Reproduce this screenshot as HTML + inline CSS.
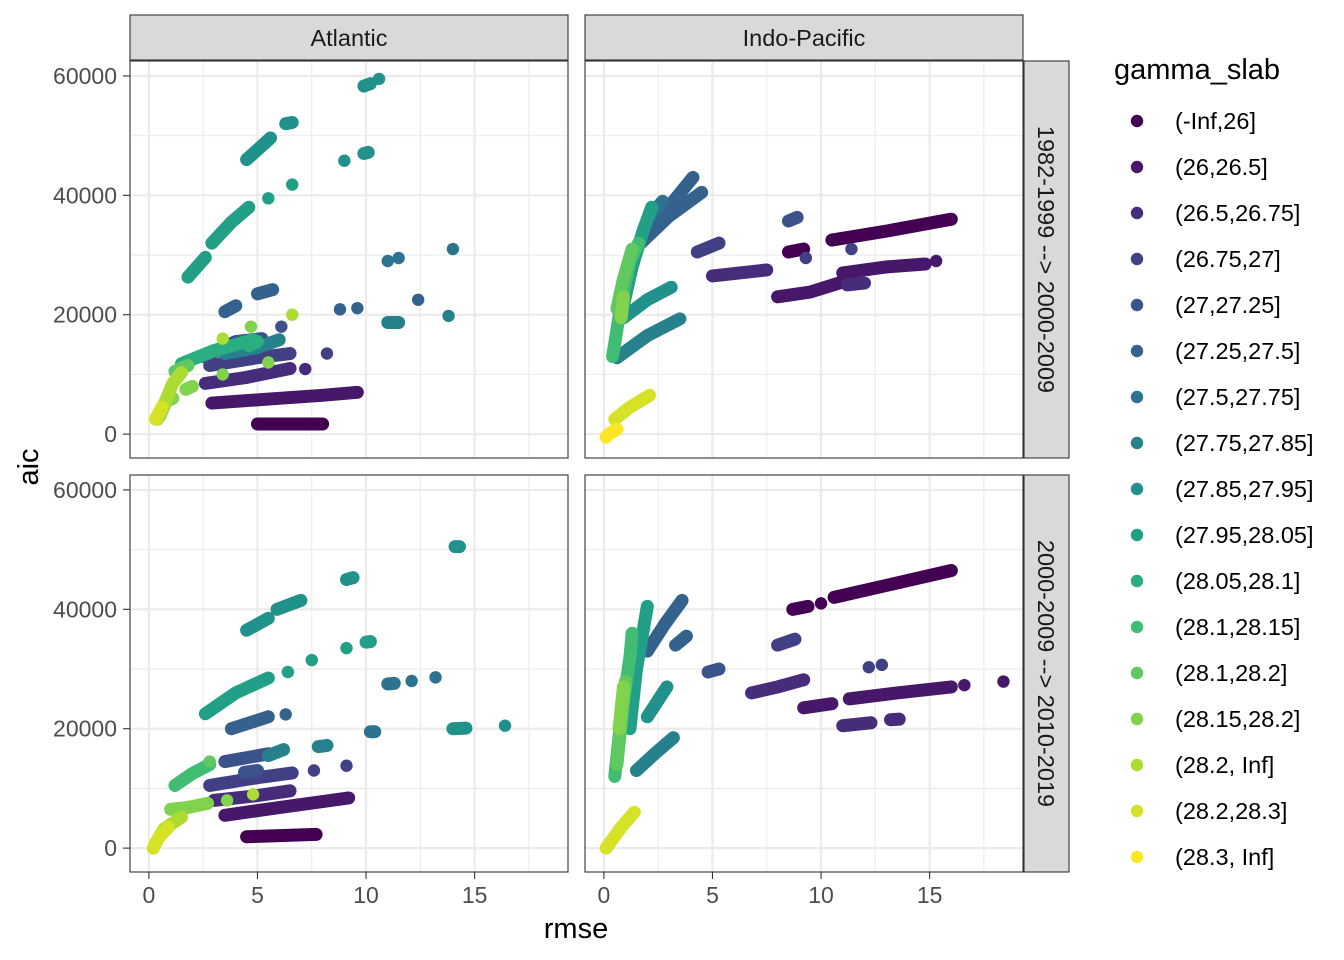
<!DOCTYPE html>
<html><head><meta charset="utf-8"><style>
body{margin:0;background:#fff;}
svg{display:block;font-family:"Liberation Sans",sans-serif;}
</style></head><body>
<svg id="chart" width="1344" height="960" viewBox="0 0 1344 960"></svg>
<script>
const groupLabels = ["(-Inf,26]","(26,26.5]","(26.5,26.75]","(26.75,27]","(27,27.25]","(27.25,27.5]","(27.5,27.75]","(27.75,27.85]","(27.85,27.95]","(27.95,28.05]","(28.05,28.1]","(28.1,28.15]","(28.1,28.2]","(28.15,28.2]","(28.2, Inf]","(28.2,28.3]","(28.3, Inf]"];
const colLabels = ["Atlantic","Indo-Pacific"];
const rowLabels = ["1982-1999 --> 2000-2009","2000-2009 --> 2010-2019"];
const xTicks = [0,5,10,15];
const yTicks = [0,20000,40000,60000];
// streaks: [group, [[rmse, aic], ...]]
const dataTL = [
 [0,[[5,1700],[8,1700]]],
 [1,[[2.9,5200],[6,6000],[8,6500],[9.6,7000]]],
 [2,[[2.6,8500],[4.5,9500],[6.5,11000]]],[2,[[7.2,10900]]],
 [3,[[2.8,11500],[5,12800],[6.5,13500]]],[3,[[8.2,13500]]],
 [4,[[2.5,13000],[4,15500],[5.2,16000]]],[4,[[6.1,18000]]],
 [5,[[3.5,20500],[4,21500]]],[5,[[5,23500],[5.7,24200]]],
 [6,[[11,29000]]],[6,[[11.5,29500]]],[6,[[14,31000]]],[5,[[8.8,20900]]],[5,[[9.6,21100]]],[5,[[12.4,22500]]],
 [7,[[11,18700],[11.5,18700]]],[7,[[13.8,19800]]],[7,[[3.5,13500],[5,14500],[6,15800]]],
 [8,[[4.5,46000],[5.6,49600]]],[8,[[6.3,52000],[6.6,52200]]],[8,[[9,45800]]],[8,[[9.9,47000],[10.1,47200]]],[8,[[9.9,58300],[10.2,58700]]],[8,[[10.6,59500]]],
 [9,[[1.8,26300],[2.6,29600]]],[9,[[2.9,32000],[3.8,35500],[4.6,38000]]],[9,[[5.5,39500]]],[9,[[6.6,41800]]],
 [10,[[1.5,11800],[3,14000],[4.8,15800]]],[10,[[4.6,14800],[5,15500]]],
 [12,[[1.2,10500],[1.8,11500]]],[13,[[0.5,3000],[0.8,5500],[1.1,6000]]],
 [13,[[1.7,7500],[2,8000]]],[13,[[3.4,10000]]],[13,[[5.5,12000]]],[13,[[4.7,18000]]],
 [14,[[0.4,2500],[0.7,5000],[1.1,8500],[1.5,10300]]],[14,[[3.4,16000]]],[14,[[6.6,20000]]],
 [15,[[0.3,2500],[0.6,4500]]]
];
const dataTR = [
 [0,[[10.5,32500],[13,34000],[16,36000]]],[0,[[8.5,30500],[9.2,31000]]],
 [1,[[8,23000],[9.5,23800],[11,25500]]],[1,[[11,27000],[13,28000],[14.8,28500]]],[1,[[15.3,29000]]],
 [2,[[5,26500],[7.5,27500]]],[2,[[11.2,25000],[12,25300]]],
 [3,[[9.3,29500]]],[3,[[11.4,31000]]],[3,[[4.3,30500],[5.3,32000]]],
 [4,[[8.5,35700],[8.9,36300]]],
 [5,[[1.7,32000],[3,36500],[4.5,40500]]],[5,[[2.2,34500],[3.2,39000],[4.1,43000]]],
 [6,[[2,36000],[2.7,39000]]],
 [7,[[0.6,12800],[2,16500],[3.5,19300]]],
 [8,[[0.9,19500],[2,22500],[3.1,24600]]],
 [9,[[0.8,20000],[1.3,28000],[1.8,34000],[2.2,38000]]],
 [11,[[0.4,13000],[0.8,22000],[1.2,29000],[1.6,32000]]],
 [12,[[0.6,21000],[0.9,26000],[1.3,31000]]],
 [13,[[0.8,19500],[0.9,23000]]],
 [15,[[0.5,2500],[1.2,4500],[2.1,6500]]],
 [16,[[0.1,-500],[0.3,200],[0.6,800]]]
];
const dataBL = [
 [0,[[4.5,1900],[6,2100],[7.7,2300]]],
 [1,[[3.5,5500],[6,6800],[8,7800],[9.2,8400]]],
 [2,[[3,8000],[5,8800],[6.5,9600]]],
 [3,[[2.8,10500],[5,11800],[6.6,12600]]],[3,[[7.6,13000]]],[3,[[9.1,13800]]],
 [4,[[3.5,14500],[5.5,15800]]],[4,[[4.4,12700],[5,13000]]],
 [5,[[3.8,20000],[5.5,22000]]],[5,[[6.3,22400]]],
 [6,[[10.2,19500],[10.4,19500]]],[6,[[11,27500],[11.3,27600]]],[6,[[12.1,28000]]],[6,[[13.2,28600]]],
 [7,[[7.8,17000],[8.2,17200]]],[7,[[5.5,15500],[6.2,16500]]],
 [8,[[4.5,36500],[5.5,38500]]],[8,[[5.9,40000],[7,41500]]],[8,[[9.1,45000],[9.4,45300]]],[8,[[14.1,50500],[14.3,50500]]],[8,[[14,20000],[14.6,20100]]],[8,[[16.4,20500]]],
 [9,[[2.6,22500],[4,26000],[5.5,28500]]],[9,[[6.4,29500]]],[9,[[7.5,31500]]],[9,[[9.1,33500]]],[9,[[10,34500],[10.2,34600]]],
 [11,[[1.2,10500],[2,12500],[2.8,14000]]],
 [12,[[2.8,14500]]],
 [13,[[1,6500],[1.8,6800],[2.7,7500]]],[13,[[3.6,8000]]],
 [14,[[0.3,800],[0.7,3200],[1.5,5200]]],[14,[[4.8,9000]]],
 [15,[[0.2,0],[0.5,2000],[0.9,3500]]]
];
const dataBR = [
 [0,[[8.7,40000],[9.4,40500]]],[0,[[10,41000]]],[0,[[10.6,42000],[13,44000],[16,46500]]],
 [1,[[9.2,23500],[10.5,24200]]],[1,[[11.3,25000],[13.5,26000],[16,27000]]],[1,[[16.6,27300]]],[1,[[18.4,27900]]],
 [2,[[6.8,26000],[8,27000],[9.2,28200]]],[2,[[11,20500],[12.3,21000]]],[2,[[13.2,21500],[13.6,21600]]],
 [3,[[8,34000],[8.8,35000]]],[3,[[12.2,30300]]],[3,[[12.8,30700]]],
 [4,[[4.8,29500],[5.3,30000]]],
 [5,[[2,33000],[2.8,37500],[3.6,41500]]],[5,[[3.3,34000],[3.8,35500]]],
 [7,[[1.5,13000],[2.4,16000],[3.2,18500]]],
 [8,[[2,22000],[2.9,27000]]],
 [9,[[1.2,20000],[1.5,30000],[2,40500]]],
 [11,[[0.5,12000],[0.8,22000],[1.2,32000],[1.3,36000]]],
 [12,[[0.6,14000],[1,28000]]],
 [13,[[0.7,20000],[0.9,27000]]],
 [15,[[0.1,0],[0.8,3500],[1.4,6000]]]
];
const panelData = [[dataTL,dataTR],[dataBL,dataBR]];

const NS="http://www.w3.org/2000/svg";
const svg=document.getElementById('chart');
function mk(tag,attrs,parent){const e=document.createElementNS(NS,tag);for(const k in attrs)e.setAttribute(k,attrs[k]);(parent||svg).appendChild(e);return e;}
const vstops=["#440154","#482475","#414487","#355F8D","#2A788E","#21918C","#22A884","#44BF70","#7AD151","#BDDF26","#FDE725"];
function hex(c){return [1,3,5].map(i=>parseInt(c.substr(i,2),16));}
function viridis(t){const p=t*(vstops.length-1);const i=Math.min(Math.floor(p),vstops.length-2);const f=p-i;const a=hex(vstops[i]),b=hex(vstops[i+1]);return "rgb("+a.map((v,k)=>Math.round(v+(b[k]-v)*f)).join(",")+")";}
function color(g){return viridis(g/(groupLabels.length-1));}

const colX=[130,585], pw=438, rowY=[61,475], ph=397;
const xMin=-0.87, xMax=19.3, yMin=-4000, yMax=62500;
function sx(c,v){return colX[c]+(v-xMin)/(xMax-xMin)*pw;}
function sy(r,v){return rowY[r]+ph-(v-yMin)/(yMax-yMin)*ph;}

for(let r=0;r<2;r++)for(let c=0;c<2;c++){
  const g=mk('g',{},svg);
  
  
  mk('rect',{x:colX[c],y:rowY[r],width:pw,height:ph,fill:'#fff'},g);
  for(let v=-2.5;v<=20;v+=2.5){const X=sx(c,v);if(X<colX[c]||X>colX[c]+pw)continue;
    mk('line',{x1:X,x2:X,y1:rowY[r],y2:rowY[r]+ph,stroke:'#ebebeb','stroke-width':(v%5===0)?2.2:1.1},g);}
  for(let v=0;v<=60000;v+=10000){const Y=sy(r,v);
    mk('line',{x1:colX[c],x2:colX[c]+pw,y1:Y,y2:Y,stroke:'#ebebeb','stroke-width':(v%20000===0)?2.2:1.1},g);}
  const streaks=panelData[r][c];
  streaks.forEach(s=>{const col=color(s[0]);const pts=s[1];
    if(pts.length>1){const pl=mk('polyline',{points:pts.map(p=>sx(c,p[0])+','+sy(r,p[1])).join(' '),fill:'none',stroke:col,'stroke-width':13,'stroke-linecap':'round','stroke-linejoin':'round'},g);
      
      }
    pts.forEach(p=>{const ci=mk('circle',{cx:sx(c,p[0]),cy:sy(r,p[1]),r:6.2,fill:col},g);
      
      });
  });
  mk('rect',{x:colX[c],y:rowY[r],width:pw,height:ph,fill:'none',stroke:'#333','stroke-width':1.1},g);
}
// strips
colLabels.forEach((l,c)=>{
  const s=mk('rect',{x:colX[c],y:15,width:pw,height:45,fill:'#d9d9d9',stroke:'#333','stroke-width':1.1});
  
  
  const t=mk('text',{x:colX[c]+pw/2,y:46,'text-anchor':'middle','font-size':23.5,fill:'#1a1a1a'});t.textContent=l;
  
  
});
rowLabels.forEach((l,r)=>{
  const s=mk('rect',{x:1024,y:rowY[r],width:45,height:ph,fill:'#d9d9d9',stroke:'#333','stroke-width':1.1});
  
  
  const cy=rowY[r]+ph/2;
  const t=mk('text',{x:1038,y:cy,'text-anchor':'middle','font-size':23.5,fill:'#1a1a1a',transform:'rotate(90 1038 '+cy+')'});t.textContent=l;
  
  
});
// axes
for(let r=0;r<2;r++)yTicks.forEach(v=>{const Y=sy(r,v);
  mk('line',{x1:123,x2:130,y1:Y,y2:Y,stroke:'#333','stroke-width':1.1});
  const t=mk('text',{x:117,y:Y+8,'text-anchor':'end','font-size':23,fill:'#4d4d4d'});t.textContent=v;
  
  });
for(let c=0;c<2;c++)xTicks.forEach(v=>{const X=sx(c,v);
  mk('line',{x1:X,x2:X,y1:872,y2:879,stroke:'#333','stroke-width':1.1});
  const t=mk('text',{x:X,y:903,'text-anchor':'middle','font-size':23,fill:'#4d4d4d'});t.textContent=v;
  
  });
let t=mk('text',{x:576,y:938,'text-anchor':'middle','font-size':29,fill:'#000'});t.textContent='rmse';


t=mk('text',{x:38,y:467,'text-anchor':'middle','font-size':29,fill:'#000',transform:'rotate(-90 38 467)'});t.textContent='aic';


// legend
t=mk('text',{x:1114,y:79,'font-size':29,fill:'#000'});t.textContent='gamma_slab';


groupLabels.forEach((l,i)=>{const Y=121+i*46;
  const g=mk('g',{});
  
  
  mk('circle',{cx:1137,cy:Y,r:6.2,fill:color(i)},g);
  const tt=mk('text',{x:1175,y:Y+8,'font-size':23.5,fill:'#000'},g);tt.textContent=l;});
</script>
</body></html>
